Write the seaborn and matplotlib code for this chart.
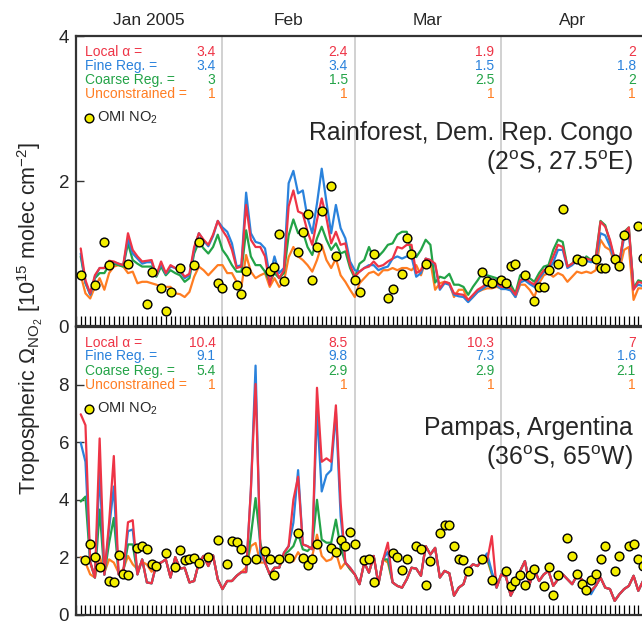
import numpy as np
import pandas as pd
import matplotlib.pyplot as plt
import matplotlib.transforms as mtransforms
import seaborn as sns

# daily model columns, day of year 2005 (Jan 1 = 1)
days = np.arange(1, 121)

month_names = ['Jan 2005', 'Feb', 'Mar', 'Apr']
month_edges = [0, 31, 59, 90, 120]

run_names = ['Local α =', 'Fine Reg. =', 'Coarse Reg. =', 'Unconstrained =']
run_colors = ['#ee3446', '#2a82dc', '#23a347', '#ff7d22']

# ---- Rainforest, Dem. Rep. Congo ----
congo_local = [1.07, 0.63, 0.45, 0.70, 0.80, 0.80, 0.90, 0.89, 0.86, 0.84,
               1.28, 1.05, 0.96, 0.89, 0.90, 0.91, 0.70, 0.89, 0.73, 0.84,
               0.80, 0.77, 0.68, 0.72, 1.09, 1.28, 1.19, 1.12, 1.26, 1.45,
               1.32, 1.22, 1.05, 0.80, 0.82, 1.67, 1.19, 1.09, 1.09, 0.96,
               0.57, 0.82, 0.66, 0.77, 1.65, 1.87, 1.58, 1.55, 1.30, 1.12,
               1.46, 1.76, 1.49, 1.14, 1.30, 1.12, 1.14, 0.84, 0.68, 0.75,
               0.80, 0.82, 0.89, 0.82, 0.84, 0.89, 0.93, 1.09, 1.07, 1.12,
               1.12, 0.73, 0.77, 0.93, 0.91, 0.86, 0.52, 0.61, 0.59, 0.45,
               0.44, 0.43, 0.36, 0.43, 0.50, 0.54, 0.59, 0.57, 0.59, 0.54,
               0.54, 0.52, 0.43, 0.63, 0.66, 0.61, 0.57, 0.68, 0.77, 0.80,
               0.96, 1.12, 1.09, 0.82, 0.86, 0.93, 0.89, 0.93, 0.91, 0.93,
               1.44, 1.37, 1.19, 0.93, 0.89, 1.28, 1.36, 0.50, 0.61, 0.59]
congo_fine = [1.00, 0.60, 0.43, 0.68, 0.80, 0.80, 0.88, 0.88, 0.86, 0.84,
              1.20, 1.00, 0.93, 0.86, 0.88, 0.88, 0.70, 0.86, 0.72, 0.82,
              0.80, 0.76, 0.66, 0.70, 1.05, 1.28, 1.18, 1.10, 1.24, 1.45,
              1.36, 1.30, 1.14, 0.82, 0.84, 1.84, 1.28, 1.16, 1.14, 1.07,
              0.68, 0.96, 0.73, 0.80, 1.97, 2.14, 1.83, 1.87, 1.49, 1.28,
              1.69, 2.17, 1.71, 1.28, 1.67, 1.35, 1.21, 0.89, 0.77, 0.75,
              0.80, 0.84, 0.84, 0.77, 0.80, 0.82, 0.93, 0.96, 0.93, 0.96,
              0.96, 0.68, 0.73, 0.93, 0.91, 0.84, 0.50, 0.59, 0.57, 0.43,
              0.41, 0.40, 0.33, 0.40, 0.47, 0.51, 0.56, 0.54, 0.56, 0.51,
              0.51, 0.49, 0.40, 0.60, 0.63, 0.58, 0.54, 0.65, 0.74, 0.77,
              0.88, 1.05, 1.05, 0.80, 0.84, 0.90, 0.86, 0.90, 0.88, 0.90,
              1.28, 1.25, 1.10, 0.90, 0.86, 1.22, 1.30, 0.52, 0.57, 0.55]
congo_coarse = [0.96, 0.59, 0.44, 0.66, 0.73, 0.73, 0.84, 0.86, 0.84, 0.82,
                1.14, 0.91, 0.86, 0.82, 0.82, 0.82, 0.68, 0.82, 0.70, 0.77,
                0.73, 0.70, 0.61, 0.66, 1.00, 1.16, 1.07, 1.00, 1.09, 1.26,
                1.05, 0.96, 0.84, 0.75, 0.75, 1.32, 0.96, 0.84, 0.84, 0.75,
                0.61, 0.73, 0.66, 0.73, 1.25, 1.47, 1.28, 1.30, 1.09, 0.98,
                1.21, 1.37, 1.19, 1.05, 1.14, 1.00, 1.03, 0.80, 0.66, 0.86,
                0.91, 1.09, 0.93, 0.96, 1.03, 1.12, 1.14, 1.26, 1.30, 1.30,
                1.00, 0.95, 1.05, 1.19, 1.12, 0.60, 0.68, 0.66, 0.72, 0.57,
                0.57, 0.54, 0.43, 0.54, 0.63, 0.73, 0.70, 0.68, 0.66, 0.61,
                0.61, 0.57, 0.45, 0.70, 0.73, 0.66, 0.61, 0.73, 0.82, 0.84,
                1.05, 1.19, 1.16, 0.82, 0.86, 0.96, 0.86, 0.96, 0.91, 0.96,
                1.45, 1.39, 1.16, 0.91, 0.86, 1.30, 1.36, 0.52, 0.63, 0.61]
congo_uncon = [0.70, 0.45, 0.38, 0.54, 0.66, 0.50, 0.73, 0.82, 0.84, 0.82,
               0.73, 0.75, 0.59, 0.61, 0.61, 0.59, 0.57, 0.54, 0.54, 0.54,
               0.45, 0.44, 0.40, 0.47, 0.68, 0.82, 0.77, 0.70, 0.77, 0.84,
               0.84, 0.73, 0.73, 0.61, 0.54, 0.98, 0.75, 0.66, 0.70, 0.73,
               0.54, 0.66, 0.54, 0.61, 0.95, 1.09, 0.96, 0.91, 0.84, 0.75,
               0.91, 1.12, 0.91, 0.80, 0.93, 0.70, 0.61, 0.50, 0.40, 0.59,
               0.66, 0.73, 0.75, 0.70, 0.77, 0.77, 0.80, 0.77, 0.80, 0.80,
               0.77, 0.84, 0.70, 0.90, 0.89, 0.50, 0.59, 0.61, 0.59, 0.40,
               0.50, 0.50, 0.34, 0.40, 0.47, 0.50, 0.52, 0.52, 0.54, 0.52,
               0.54, 0.50, 0.40, 0.57, 0.57, 0.50, 0.40, 0.59, 0.70, 0.73,
               0.68, 0.73, 0.70, 0.61, 0.68, 0.75, 0.73, 0.75, 0.73, 0.77,
               1.19, 1.09, 1.05, 0.86, 0.77, 1.05, 1.09, 0.36, 0.52, 0.52]
congo_omi_day = [1, 4, 6, 7, 11, 15, 16, 18, 19, 20, 22, 25, 26, 30, 31, 34,
                 35, 36, 41, 42, 43, 44, 47, 48, 49, 50, 51, 52, 54, 55, 59,
                 60, 63, 66, 67, 69, 70, 71, 74, 86, 87, 88, 90, 91, 92, 93,
                 95, 97, 98, 99, 100, 102, 103, 106, 107, 110, 111, 112, 114,
                 115, 116, 119, 120]
congo_omi = [0.71, 0.57, 1.16, 0.84, 0.86, 0.31, 0.74, 0.53, 0.21, 0.47,
             0.80, 0.84, 1.16, 0.59, 0.53, 0.57, 0.44, 0.76, 0.76, 0.82,
             1.27, 0.62, 1.02, 1.29, 1.54, 0.63, 1.09, 1.59, 1.93, 0.96,
             0.63, 0.47, 1.00, 0.38, 0.51, 0.72, 1.22, 1.00, 0.86, 0.75,
             0.62, 0.60, 0.63, 0.59, 0.83, 0.86, 0.70, 0.34, 0.54, 0.54,
             0.77, 0.86, 1.61, 0.92, 0.90, 0.92, 0.80, 0.80, 0.92, 0.83,
             1.26, 1.38, 0.94]
congo_factors = [['3.4', '2.4', '1.9', '2'],
                 ['3.4', '3.4', '1.5', '1.8'],
                 ['3', '1.5', '2.5', '2'],
                 ['1', '1', '1', '1']]

# ---- Pampas, Argentina ----
pampas_local = [6.97, 6.59, 1.85, 1.30, 6.13, 1.40, 3.20, 5.52, 1.41, 1.47,
                3.22, 3.29, 1.41, 1.93, 1.13, 1.10, 1.76, 1.82, 1.93, 1.30,
                2.01, 1.61, 1.64, 1.13, 1.18, 1.82, 2.05, 1.70, 2.07, 1.24,
                0.90, 1.18, 1.18, 1.36, 1.49, 1.49, 4.34, 8.02, 2.39, 1.82,
                1.41, 1.64, 1.64, 2.16, 2.39, 4.00, 4.80, 2.45, 2.39, 2.28,
                7.89, 5.32, 5.44, 5.32, 7.28, 3.89, 1.82, 1.64, 1.41, 1.07,
                1.82, 1.47, 2.05, 1.07, 1.93, 2.51, 1.13, 1.01, 0.95, 1.24,
                1.64, 1.61, 1.36, 2.39, 2.10, 2.33, 1.30, 1.53, 1.45, 0.67,
                0.95, 1.07, 1.59, 1.76, 1.70, 1.93, 1.87, 2.74, 0.95, 1.41,
                1.33, 0.67, 1.01, 1.53, 1.87, 1.07, 1.59, 1.18, 1.41, 1.53,
                1.01, 1.24, 1.41, 1.24, 1.07, 1.36, 1.24, 1.01, 0.84, 1.01,
                1.30, 0.95, 0.90, 0.49, 0.72, 0.90, 1.01, 1.36, 0.84, 1.18]
pampas_fine = [5.98, 5.32, 1.85, 1.30, 5.00, 1.40, 3.00, 4.46, 1.41, 1.47,
               2.91, 2.97, 1.41, 1.93, 1.13, 1.10, 1.76, 1.82, 1.93, 1.30,
               2.01, 1.61, 1.64, 1.13, 1.18, 1.82, 2.05, 1.70, 2.07, 1.24,
               0.90, 1.18, 1.18, 1.36, 1.49, 1.49, 4.30, 8.66, 2.10, 1.82,
               1.41, 1.64, 1.64, 2.16, 2.39, 3.20, 5.03, 2.45, 2.39, 2.28,
               7.10, 4.29, 4.86, 5.03, 7.05, 3.43, 1.82, 1.64, 1.41, 1.07,
               1.82, 1.47, 2.05, 1.07, 1.93, 2.20, 1.13, 1.01, 0.95, 1.24,
               1.64, 1.61, 1.36, 2.39, 2.10, 2.33, 1.30, 1.53, 1.45, 0.67,
               0.95, 1.07, 1.59, 1.76, 1.70, 1.93, 2.14, 1.50, 0.95, 1.41,
               1.33, 0.67, 1.01, 1.53, 1.87, 1.07, 1.59, 1.18, 1.41, 1.53,
               1.01, 1.24, 1.41, 1.24, 1.07, 1.36, 1.24, 1.01, 0.72, 1.01,
               1.30, 0.95, 0.90, 0.49, 0.72, 0.90, 1.01, 1.36, 0.84, 1.18]
pampas_coarse = [3.94, 4.11, 1.82, 1.30, 3.66, 1.40, 2.50, 3.37, 1.45, 1.50,
                 2.45, 2.45, 1.41, 1.93, 1.13, 1.10, 1.76, 1.82, 1.93, 1.30,
                 2.01, 1.61, 1.64, 1.13, 1.18, 1.82, 2.05, 1.70, 2.07, 1.24,
                 0.90, 1.18, 1.18, 1.36, 1.49, 1.49, 2.74, 4.06, 2.51, 1.82,
                 1.41, 1.64, 1.64, 2.10, 2.22, 2.39, 2.83, 2.28, 2.22, 2.39,
                 4.00, 2.62, 2.51, 2.51, 3.31, 2.33, 1.82, 1.59, 1.41, 1.07,
                 1.82, 1.47, 2.05, 1.07, 1.93, 1.93, 1.13, 1.01, 0.95, 1.24,
                 1.64, 1.61, 1.36, 2.39, 2.10, 2.33, 1.30, 1.53, 1.45, 0.67,
                 0.95, 1.07, 1.59, 1.76, 1.70, 1.93, 1.99, 1.45, 0.95, 1.41,
                 1.33, 0.67, 1.01, 1.53, 1.87, 1.07, 1.59, 1.18, 1.41, 1.53,
                 1.01, 1.24, 1.41, 1.24, 1.07, 1.36, 1.24, 1.01, 0.84, 1.01,
                 1.30, 0.95, 0.90, 0.49, 0.72, 0.90, 1.01, 1.36, 0.84, 1.18]
pampas_uncon = [2.01, 1.82, 1.41, 1.30, 2.05, 1.47, 1.93, 1.82, 1.47, 1.59,
                2.05, 1.76, 1.59, 1.85, 1.75, 1.50, 1.76, 1.82, 1.93, 1.30,
                2.01, 1.61, 1.64, 1.13, 1.18, 1.82, 2.05, 1.70, 2.07, 1.24,
                0.90, 1.18, 1.18, 1.36, 1.49, 1.65, 2.39, 2.50, 1.82, 1.82,
                1.41, 1.64, 1.64, 2.10, 2.05, 1.87, 2.18, 1.93, 1.76, 2.05,
                2.79, 2.05, 1.87, 1.93, 2.18, 1.61, 1.82, 1.59, 1.41, 1.07,
                1.82, 1.47, 2.05, 1.07, 1.93, 1.82, 1.13, 1.01, 0.95, 1.24,
                1.64, 1.61, 1.36, 2.39, 2.10, 2.33, 1.30, 1.53, 1.45, 0.67,
                0.95, 1.07, 1.59, 1.76, 1.70, 1.93, 1.93, 1.40, 0.95, 1.41,
                1.33, 0.67, 1.01, 1.53, 1.87, 1.07, 1.59, 1.18, 1.41, 1.53,
                1.01, 1.24, 1.41, 1.24, 1.07, 1.36, 1.24, 1.01, 0.84, 1.01,
                1.30, 0.95, 0.90, 0.49, 0.72, 0.90, 1.01, 1.36, 0.84, 1.18]
pampas_omi_day = [2, 3, 4, 5, 7, 8, 9, 10, 11, 13, 14, 15, 16, 17, 19, 21, 22,
                  23, 24, 25, 26, 28, 30, 32, 33, 34, 35, 36, 38, 40, 41, 42,
                  43, 45, 47, 48, 49, 50, 51, 54, 55, 56, 57, 58, 59, 61, 62,
                  63, 67, 68, 69, 70, 72, 73, 74, 75, 77, 78, 79, 80, 81, 82,
                  83, 86, 88, 91, 92, 93, 94, 95, 96, 97, 99, 100, 101, 102,
                  104, 105, 106, 107, 108, 109, 110, 111, 112, 114, 115, 117,
                  118, 119, 120]
pampas_omi = [1.90, 2.47, 2.01, 1.68, 1.18, 1.16, 2.07, 1.41, 1.38, 2.33,
              2.41, 2.28, 1.76, 1.70, 2.16, 1.68, 2.25, 1.90, 1.93, 1.98,
              1.82, 2.01, 2.60, 1.76, 2.56, 2.55, 2.30, 1.90, 1.93, 2.22,
              1.95, 1.38, 1.93, 1.99, 2.83, 1.99, 1.72, 1.93, 2.45, 2.33,
              2.18, 2.62, 2.41, 2.87, 2.45, 1.90, 1.93, 1.13, 2.16, 2.01,
              1.56, 1.95, 2.39, 2.28, 1.03, 1.87, 2.85, 3.14, 3.14, 2.41,
              1.93, 1.91, 1.53, 1.93, 1.22, 1.53, 0.99, 1.18, 1.38, 1.05,
              1.38, 1.59, 0.99, 1.67, 0.69, 1.38, 2.66, 2.05, 1.41, 1.07,
              0.87, 1.22, 1.44, 1.95, 2.39, 1.51, 2.05, 2.41, 2.45, 1.93,
              1.70]
pampas_factors = [['10.4', '8.5', '10.3', '7'],
                  ['9.1', '9.8', '7.3', '1.6'],
                  ['5.4', '2.9', '2.9', '2.1'],
                  ['1', '1', '1', '1']]

sns.set_style('white')
plt.rcParams['font.family'] = ['Liberation Sans', 'DejaVu Sans']
plt.rcParams['mathtext.fontset'] = 'custom'
plt.rcParams['mathtext.rm'] = 'Liberation Sans'
plt.rcParams['mathtext.it'] = 'Liberation Sans:italic'
plt.rcParams['mathtext.bf'] = 'Liberation Sans:bold'

palette = dict(zip(run_names, run_colors))


def long_frame(runs):
    parts = [pd.DataFrame({'day': days, 'value': vals, 'run': name})
             for name, vals in zip(run_names, runs)]
    return pd.concat(parts, ignore_index=True)


def draw_panel(ax, runs, omi_day, omi, factors, ymax, yticks, title, coords):
    for edge in month_edges[1:-1]:
        ax.axvline(edge, color='#c9c9c9', lw=1.2, zorder=0)

    # red drawn last so it sits on top
    sns.lineplot(data=long_frame(runs), x='day', y='value', hue='run',
                 hue_order=run_names[::-1], palette=palette, estimator=None,
                 sort=False, linewidth=1.6, legend=False, ax=ax, zorder=3)
    sns.scatterplot(x=omi_day, y=omi, color='#f3ee00', edgecolor='black',
                    linewidth=1.0, s=40, zorder=5, ax=ax)

    ax.set_xlim(0, 120)
    ax.set_ylim(0, ymax)
    ax.set_yticks(yticks)
    ax.set_xticks(np.arange(0, 121))
    ax.set_xlabel('')
    ax.set_ylabel('')
    ax.tick_params(axis='x', direction='in', length=7, width=0.9,
                   labelbottom=False, bottom=True, top=False, color='black')
    ax.tick_params(axis='y', direction='in', length=6, width=1.0,
                   labelsize=13.5, pad=5, left=True, color='#333333')
    for sp in ax.spines.values():
        sp.set_color('#333333')
        sp.set_linewidth(1.6)

    # coloured scaling-factor table
    trans = mtransforms.blended_transform_factory(ax.transData, ax.transAxes)
    rows_y = [0.945, 0.898, 0.849, 0.799]
    for r, (name, color) in enumerate(zip(run_names, run_colors)):
        ax.text(1.9, rows_y[r], name, color=color, fontsize=10, ha='left',
                va='center', transform=trans)
        for m in range(4):
            ax.text(month_edges[m + 1] - 1.5, rows_y[r], factors[r][m],
                    color=color, fontsize=10, ha='right', va='center',
                    transform=trans)
    ax.scatter([2.75], [0.717], transform=trans, s=40, color='#f3ee00',
               edgecolor='black', linewidth=1.0, zorder=6, clip_on=False)
    ax.text(4.4, 0.717, 'OMI NO$_2$', fontsize=10.5, ha='left', va='center',
            transform=trans)

    ax.text(0.982, title[1], title[0], transform=ax.transAxes, ha='right',
            va='center', fontsize=17.8)
    ax.text(0.982, coords[1], coords[0], transform=ax.transAxes, ha='right',
            va='center', fontsize=17.8)


fig = plt.figure(figsize=(6.42, 6.21), dpi=100)
ax_top = fig.add_axes([0.1184, 0.4750, 0.8832, 0.4670])
ax_bot = fig.add_axes([0.1184, 0.0097, 0.8832, 0.4637])

draw_panel(ax_top, [congo_local, congo_fine, congo_coarse, congo_uncon],
           congo_omi_day, congo_omi, congo_factors, 4, [0, 2, 4],
           ('Rainforest, Dem. Rep. Congo', 0.666),
           ('(2$^\\mathrm{o}$S, 27.5$^\\mathrm{o}$E)', 0.562))
draw_panel(ax_bot, [pampas_local, pampas_fine, pampas_coarse, pampas_uncon],
           pampas_omi_day, pampas_omi, pampas_factors, 10, [0, 2, 4, 6, 8],
           ('Pampas, Argentina', 0.650),
           ('(36$^\\mathrm{o}$S, 65$^\\mathrm{o}$W)', 0.547))

# month names above the top panel
top_trans = mtransforms.blended_transform_factory(ax_top.transData,
                                                  ax_top.transAxes)
for m, name in enumerate(month_names):
    mid = (month_edges[m] + month_edges[m + 1]) / 2
    ax_top.text(mid, 1.055, name, transform=top_trans, ha='center',
                va='center', fontsize=12.5)

fig.text(0.047, 0.488,
         'Tropospheric $\\Omega_{\\mathrm{NO}_2}$ [10$^{15}$ molec cm$^{-2}$]',
         rotation=90, ha='center', va='center', fontsize=15.5)

fig.savefig('out.png', dpi=100)
plt.close(fig)
